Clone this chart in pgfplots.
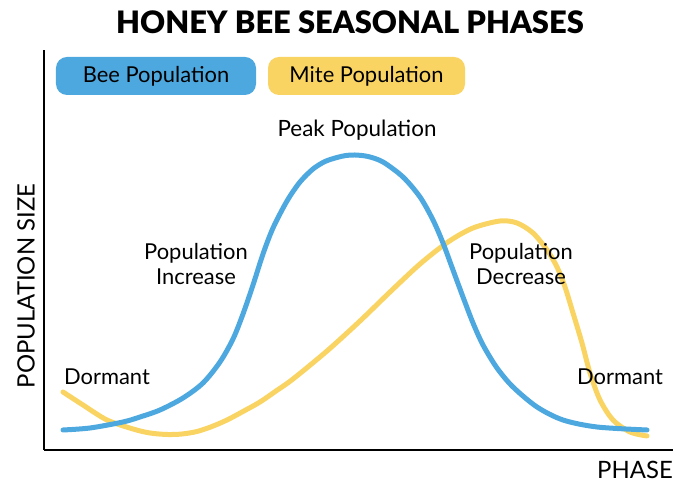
\documentclass[border=0pt]{standalone}
\usepackage{fontspec}
\setmainfont{Lato}
\newfontfamily\titlefont{Lato Black}
\usepackage{pgfplots}
\pgfplotsset{compat=1.18}
\definecolor{beeblue}{HTML}{4DA8DF}
\definecolor{miteyellow}{HTML}{F9D462}
\begin{document}
\begin{tikzpicture}
\begin{axis}[
  scale only axis, width=629bp, height=400bp,
  xmin=44, xmax=673, ymin=54, ymax=454,
  axis x line=bottom, axis y line=left,
  axis line style={-, line width=1.6pt, black},
  xtick=\empty, ytick=\empty, clip=false,
]
\path (axis cs:0,0) rectangle (axis cs:698,504);
\addplot[miteyellow, line width=5bp, line cap=round, smooth, tension=0.5] coordinates {
(63,112) (83,99) (107,84) (133,75) (150,71) (167,69.5) (182,70) (197,72.5) (212,77.5) (227,84) (243,92.5) (260,102) (276,113) (293,125)
(327,153) (360,183) (390,212) (420,240) (448,262) (473,276) (500,283) (517,281)
(533,271) (547,254) (557,237) (565,217) (573,191) (582,161) (590,131) (600,104)
(613,84) (630,72) (647,68)
};
\addplot[beeblue, line width=5bp, line cap=round, smooth, tension=0.5] coordinates {
(63,74) (90,76) (123,82) (140,87) (160,94) (183,106) (203,121) (220,142) (233,165)
(243,190) (253,219) (263,250) (273,276) (287,303) (300,322) (313,335) (325,342.5) (337,346.5)
(346,348.5) (355,349) (368,347.5) (383,342) (403,327) (420,307) (433,284) (443,261) (453,234) (463,207)
(473,181) (483,159) (497,136) (513,117) (537,97) (563,84) (597,77) (647,74)
};
\node[font=\titlefont\fontsize{31}{36}\selectfont] at (axis cs:350,482) {HONEY BEE SEASONAL PHASES};
\node[fill=beeblue, rounded corners=11bp, minimum width=200bp, minimum height=38bp, inner sep=0pt,
      font=\fontsize{22}{26}\selectfont] at (axis cs:156,428) {Bee Population};
\node[fill=miteyellow, rounded corners=11bp, minimum width=197bp, minimum height=38bp, inner sep=0pt,
      font=\fontsize{22}{26}\selectfont] at (axis cs:366.5,428) {Mite Population};
\node[font=\fontsize{22.5}{26}\selectfont] at (axis cs:357,374) {Peak Population};
\node[font=\fontsize{22}{25}\selectfont, align=center] at (axis cs:196,240) {Population\\Increase};
\node[font=\fontsize{22}{25}\selectfont, align=center] at (axis cs:521,240) {Population\\Decrease};
\node[font=\fontsize{22}{26}\selectfont] at (axis cs:107,127) {Dormant};
\node[font=\fontsize{22}{26}\selectfont] at (axis cs:620,127) {Dormant};
\node[font=\fontsize{24}{28}\selectfont, anchor=east, inner sep=0pt] at (axis cs:673,34) {PHASE};
\node[font=\fontsize{24}{28}\selectfont, rotate=90] at (axis cs:26,218) {POPULATION SIZE};
\end{axis}
\end{tikzpicture}
\end{document}
